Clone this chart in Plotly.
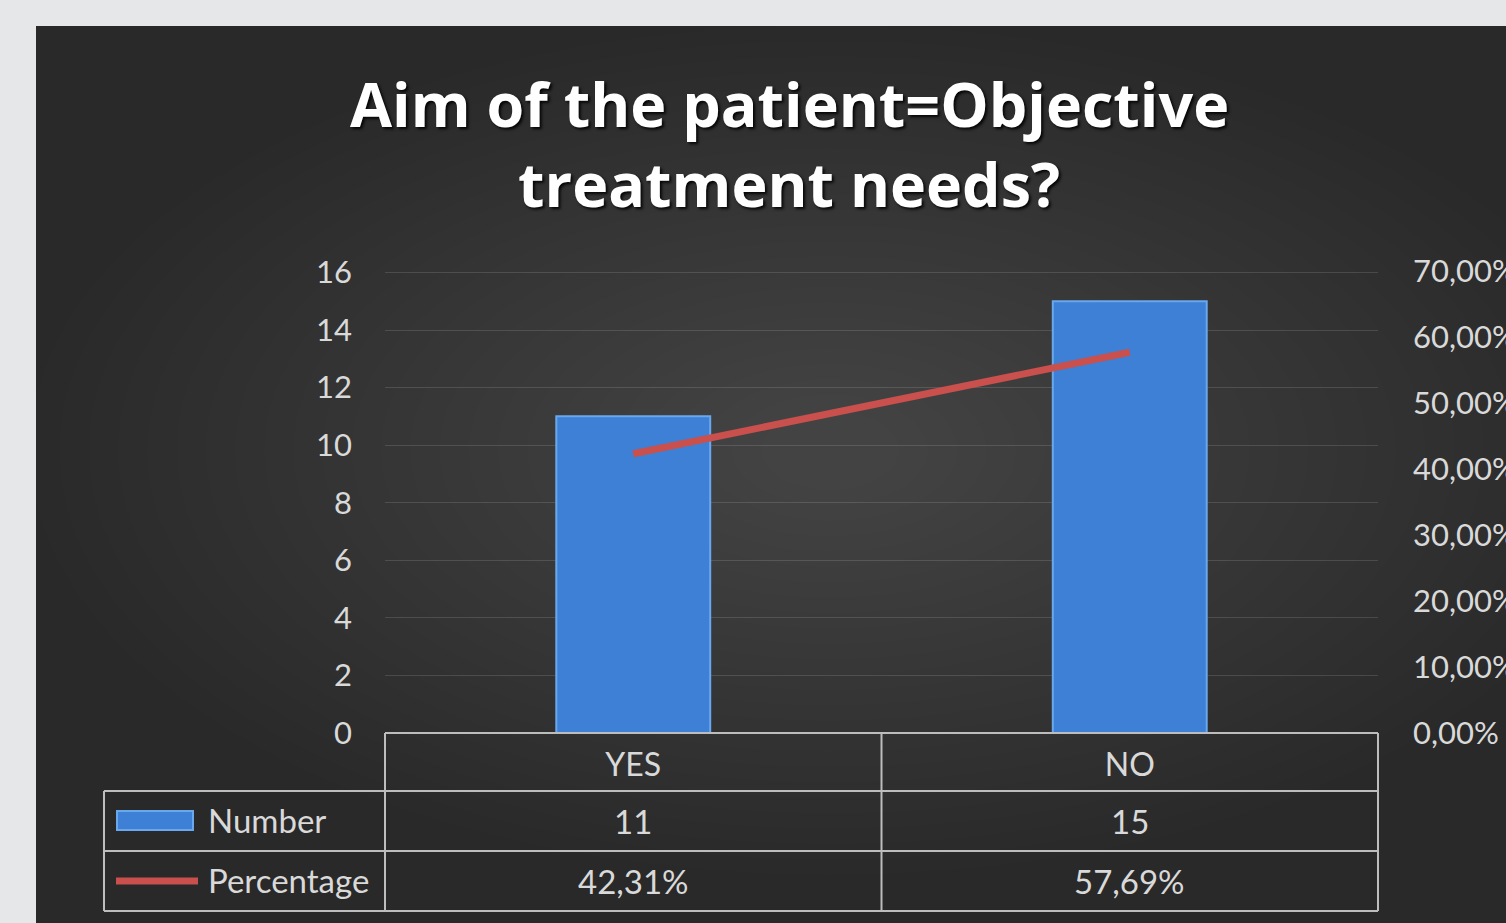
import plotly.graph_objects as go

# ---------------- data ----------------
categories = ["YES", "NO"]
numbers = [11, 15]
percentages = [0.4231, 0.5769]
series_names = ["Number", "Percentage"]
title_lines = ["Aim of the patient=Objective", "treatment needs?"]

# ---------------- geometry helpers ----------------
W, H = 1506, 923
L, R, T, B = 385, 1378, 271, 733  # plot area in pixels


def px(x):
    return (x - L) / (R - L)


def py(y):
    return (B - y) / (B - T)


TXT = "#d9d9d9"
FONT = "Lato"
LINEC = "#bdbdbd"
BLUE = "#3d80d6"
RED = "#c9504c"

fig = go.Figure()

fig.add_trace(go.Bar(
    x=categories, y=numbers, name=series_names[0],
    marker=dict(color=BLUE, line=dict(color="#6aa8ee", width=2)),
    width=0.31, yaxis="y",
))
fig.add_trace(go.Scatter(
    x=categories, y=percentages, name=series_names[1],
    mode="lines", line=dict(color=RED, width=7),
    yaxis="y2",
))

shapes = []
# outer dark panel
shapes.append(dict(type="rect", xref="paper", yref="paper",
                   x0=px(36), x1=px(1512), y0=py(930), y1=py(26),
                   fillcolor="#292929", line=dict(width=0), layer="below"))
# soft radial glow
n = 26
for i in range(n):
    f = 1 - i / n
    rx, ry = 760 * f + 40, 400 * f + 25
    cx, cy = 830, 450
    shapes.append(dict(type="circle", xref="paper", yref="paper",
                       x0=px(cx - rx), x1=px(cx + rx), y0=py(cy + ry), y1=py(cy - ry),
                       fillcolor="rgba(255,255,255,0.0062)", line=dict(width=0), layer="below"))


# data table lines
def hline(y, x0, x1):
    shapes.append(dict(type="line", xref="paper", yref="paper",
                       x0=px(x0), x1=px(x1), y0=py(y), y1=py(y),
                       line=dict(color=LINEC, width=2)))


def vline(x, y0, y1):
    shapes.append(dict(type="line", xref="paper", yref="paper",
                       x0=px(x), x1=px(x), y0=py(y0), y1=py(y1),
                       line=dict(color=LINEC, width=2)))


hline(733, 385, 1378)
hline(791, 104, 1378)
hline(851, 104, 1378)
hline(911, 104, 1378)
vline(104, 791, 911)
vline(385, 733, 911)
vline(1378, 733, 911)
# category boundary
shapes.append(dict(type="line", xref="x", yref="paper", x0=0.5, x1=0.5,
                   y0=py(733), y1=py(911), line=dict(color=LINEC, width=2)))

# legend keys
shapes.append(dict(type="rect", xref="paper", yref="paper",
                   x0=px(117), x1=px(193), y0=py(830), y1=py(811),
                   fillcolor=BLUE, line=dict(color="#6aa8ee", width=2)))
shapes.append(dict(type="line", xref="paper", yref="paper",
                   x0=px(116), x1=px(198), y0=py(881), y1=py(881),
                   line=dict(color=RED, width=7)))

annotations = []
# title
for line, yc in zip(title_lines, [103, 183]):
    annotations.append(dict(
        text=line, xref="paper", yref="paper", x=px(789), y=py(yc),
        xanchor="center", yanchor="middle", showarrow=False,
        font=dict(family="Open Sans", size=61, color="#ffffff", weight="bold",
                  shadow="2px 2px 3px rgba(0,0,0,0.9)"),
    ))

# table row labels
for name, yc in zip(series_names, [820, 880]):
    annotations.append(dict(text=name, xref="paper", yref="paper", x=px(206), y=py(yc),
                            xanchor="left", yanchor="middle", showarrow=False,
                            font=dict(family=FONT, size=33, color=TXT)))

# table values
for c, v in zip(categories, numbers):
    annotations.append(dict(text=str(v), xref="x", yref="paper", x=c, y=py(821),
                            xanchor="center", yanchor="middle", showarrow=False,
                            font=dict(family=FONT, size=33, color=TXT)))
for c, v in zip(categories, percentages):
    annotations.append(dict(text=f"{v * 100:.2f}%".replace(".", ","), xref="x", yref="paper",
                            x=c, y=py(881), xanchor="center", yanchor="middle", showarrow=False,
                            font=dict(family=FONT, size=33, color=TXT)))

fig.update_layout(
    width=W, height=H, autosize=False,
    margin=dict(l=L, r=W - R, t=T, b=H - B, pad=0, autoexpand=False),
    paper_bgcolor="#e6e7e9", plot_bgcolor="rgba(0,0,0,0)",
    showlegend=False, separators=",.",
    bargap=0.69,
    shapes=shapes, annotations=annotations,
    xaxis=dict(showgrid=False, zeroline=False, showline=False, ticks="", automargin=False,
               tickfont=dict(family=FONT, size=32, color=TXT), ticklabelstandoff=10),
    yaxis=dict(range=[0, 16.05], tickvals=list(range(0, 17, 2)), showgrid=True,
               gridcolor="rgba(255,255,255,0.13)", automargin=False,
               gridwidth=1, zeroline=False, showline=False, ticks="",
               tickfont=dict(family=FONT, size=31, color=TXT), ticklabelstandoff=32),
    yaxis2=dict(range=[0, 0.7], dtick=0.1, tickformat=".2%", overlaying="y", side="right",
                showgrid=False, zeroline=False, showline=False, ticks="", automargin=False,
                tickfont=dict(family=FONT, size=31, color=TXT), ticklabelstandoff=34),
)

post = (
    "document.documentElement.style.margin='0';"
    "document.body.style.margin='0';"
    "document.body.style.overflow='hidden';"
    "document.documentElement.style.overflow='hidden';"
)

fig.write_html("out.html", config={"responsive": False, "displayModeBar": False},
               post_script=post)
